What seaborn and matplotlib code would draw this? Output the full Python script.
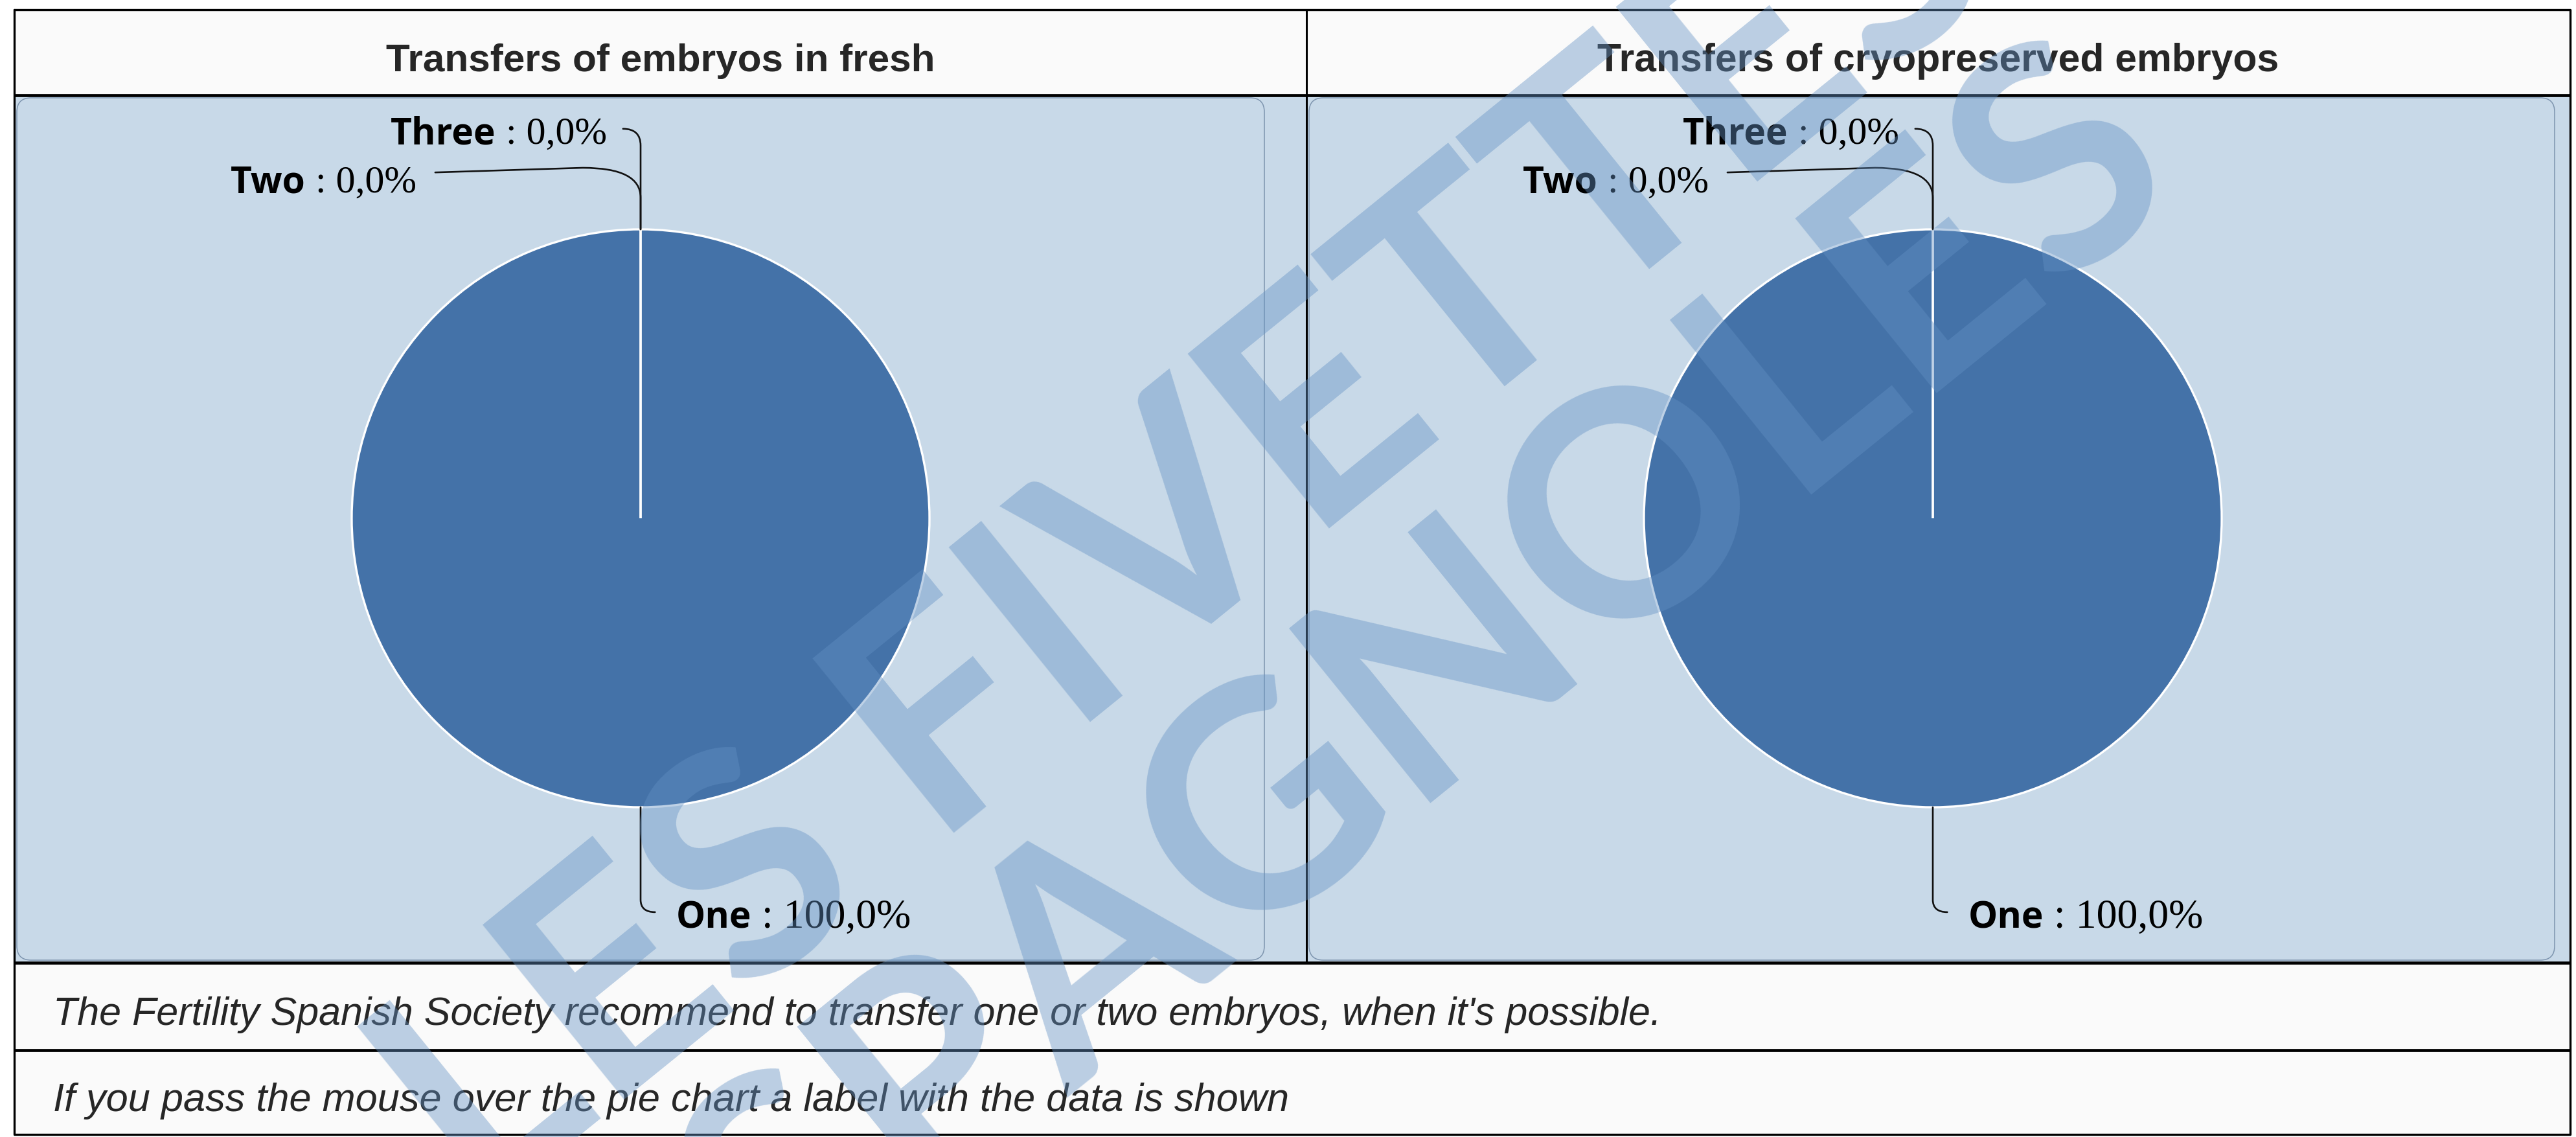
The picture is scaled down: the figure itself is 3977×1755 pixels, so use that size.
import matplotlib
matplotlib.use("Agg")
import matplotlib.pyplot as plt
import seaborn as sns
from matplotlib import font_manager
from matplotlib.patches import Rectangle, FancyBboxPatch, PathPatch
from matplotlib.path import Path
import numpy as np

# --- data ---
panel_titles = ["Transfers of embryos in fresh", "Transfers of cryopreserved embryos"]
categories = ["One", "Two", "Three"]
fresh_pct = [100.0, 0.0, 0.0]
cryo_pct = [100.0, 0.0, 0.0]
notes = [
    "The Fertility Spanish Society recommend to transfer one or two embryos, when it's possible.",
    "If you pass the mouse over the pie chart a label with the data is shown",
]
watermark_lines = ["LES FIVETTES", "ESPAGNOLES"]

# --- style ---
sns.set_style("white")
names = {f.name for f in font_manager.fontManager.ttflist}
NARROW = "Liberation Sans Narrow" if "Liberation Sans Narrow" in names else "Liberation Sans"
plt.rcParams["font.family"] = ["Liberation Sans", "DejaVu Sans"]

PIE = "#4472a8"
CHART_BG = "#c8d9e8"
CELL_BG = "#fafafa"
WM = (0.39, 0.57, 0.77, 0.42)

W, H = 3977, 1756
fig = plt.figure(figsize=(W / 100, H / 100), dpi=100)
fig.patch.set_facecolor("white")
rend = fig.canvas.get_renderer()

bg = fig.add_axes([0, 0, 1, 1])
bg.set_xlim(0, W)
bg.set_ylim(H, 0)
bg.axis("off")

# table geometry (pixels)
X0, XM, X1 = 22, 2017, 3968
Y0, Y1, Y2, Y3, Y4 = 16, 148, 1487, 1622, 1752

bg.add_patch(Rectangle((X0, Y0), X1 - X0, Y4 - Y0, facecolor=CELL_BG, edgecolor="none"))
bg.add_patch(Rectangle((X0, Y1), X1 - X0, Y2 - Y1, facecolor=CHART_BG, edgecolor="none"))
for left, right in [(X0 + 4, 1952), (XM + 4, 3944)]:
    bg.add_patch(FancyBboxPatch((left + 22, Y1 + 26), right - left - 44, Y2 - Y1 - 52,
                                boxstyle="round,pad=22", facecolor="none",
                                edgecolor="#7d94ae", lw=1.1))
for y in [Y1, Y2, Y3]:
    bg.plot([X0, X1], [y, y], color="black", lw=3.4, solid_capstyle="butt")
bg.plot([X0, X1, X1, X0, X0], [Y0, Y0, Y4, Y4, Y0], color="black", lw=2.4)
bg.plot([XM, XM], [Y0, Y2], color="black", lw=2.2)


def fit(t, target):
    w = t.get_window_extent(rend).width
    t.set_fontsize(t.get_fontsize() * target / w)


# titles
title_w = [848, 1052]
for (left, right), title, tw in zip([(X0, XM), (XM, X1)], panel_titles, title_w):
    t = bg.text((left + right) / 2, 110, title, ha="center", va="baseline",
                fontsize=50, fontweight="bold", family=NARROW)
    fit(t, tw)

# notes
for y, note, tw in zip([1582, 1715], notes, [2480, 1904]):
    t = bg.text(82, y, note, ha="left", va="baseline", fontsize=40,
                fontstyle="italic", family=NARROW)
    fit(t, tw)

# pies
R = 446
CY = 801
# label layout relative to the wedge anchor point (data units, radius = 1)
label_layout = {
    "One": dict(dx=0.123, dy=-0.415, ha="left"),
    "Two": dict(dx=-0.776, dy=0.130, ha="right"),
    "Three": dict(dx=-0.117, dy=0.298, ha="right"),
}


def connector(ax, cat, anchor):
    axx, ayy = anchor
    if cat == "One":
        verts = [(axx, ayy), (axx, ayy - 0.32), (axx, ayy - 0.363), (axx + 0.05, ayy - 0.363)]
        codes = [Path.MOVETO, Path.LINETO, Path.CURVE3, Path.CURVE3]
    elif cat == "Two":
        verts = [(axx - 0.711, ayy + 0.197), (axx - 0.2, ayy + 0.213),
                 (axx, ayy + 0.213), (axx, ayy + 0.11), (axx, ayy)]
        codes = [Path.MOVETO, Path.LINETO, Path.CURVE3, Path.CURVE3, Path.LINETO]
    else:
        verts = [(axx - 0.061, ayy + 0.348), (axx, ayy + 0.348), (axx, ayy + 0.29), (axx, ayy)]
        codes = [Path.MOVETO, Path.CURVE3, Path.CURVE3, Path.LINETO]
    ax.add_patch(PathPatch(Path(verts, codes), facecolor="none", edgecolor="#111111",
                           lw=1.9, capstyle="round", clip_on=False))


for (left, right), vals in zip([(X0, XM), (XM, X1)], [fresh_pct, cryo_pct]):
    cx = left + 967
    ax = fig.add_axes([left / W, (H - Y2) / H, (right - left) / W, (Y2 - Y1) / H])
    wedges, _ = ax.pie(vals, startangle=90, counterclock=False, colors=[PIE] * len(vals),
                       radius=1, wedgeprops=dict(edgecolor="white", linewidth=2.4))
    ax.set_aspect("auto")
    ax.set_xlim((left - cx) / R, (right - cx) / R)
    ax.set_ylim((CY - Y2) / R, (CY - Y1) / R)
    ax.axis("off")
    ax.patch.set_alpha(0)

    for wdg, cat, v in zip(wedges, categories, vals):
        mid = np.deg2rad((wdg.theta1 + wdg.theta2) / 2)
        anchor = (np.cos(mid), np.sin(mid))
        lay = label_layout[cat]
        x, y = anchor[0] + lay["dx"], anchor[1] + lay["dy"]
        val_txt = " : " + f"{v:.1f}".replace(".", ",") + "%"
        if lay["ha"] == "right":
            tv = ax.text(x, y, val_txt, ha="right", va="baseline", fontsize=43,
                         family="Liberation Serif", color="black")
            w = tv.get_window_extent(rend).width / R
            ax.text(x - w, y, cat, ha="right", va="baseline", fontsize=41,
                    family="Open Sans", fontweight="bold", color="black")
        else:
            tn = ax.text(x, y, cat, ha="left", va="baseline", fontsize=41,
                         family="Open Sans", fontweight="bold", color="black")
            w = tn.get_window_extent(rend).width / R
            ax.text(x + w, y, val_txt, ha="left", va="baseline", fontsize=46,
                    family="Liberation Serif", color="black")
        connector(ax, cat, anchor)

# watermark on top of everything
for (x, y), line in zip([(1834, 814), (2095, 1123)], watermark_lines):
    fig.text(x / W, 1 - y / H, line, ha="center", va="center", rotation=39,
             rotation_mode="anchor", fontsize=345, family="Lato", fontweight="bold",
             color=WM, zorder=20)

fig.savefig("out.png", dpi=100)
